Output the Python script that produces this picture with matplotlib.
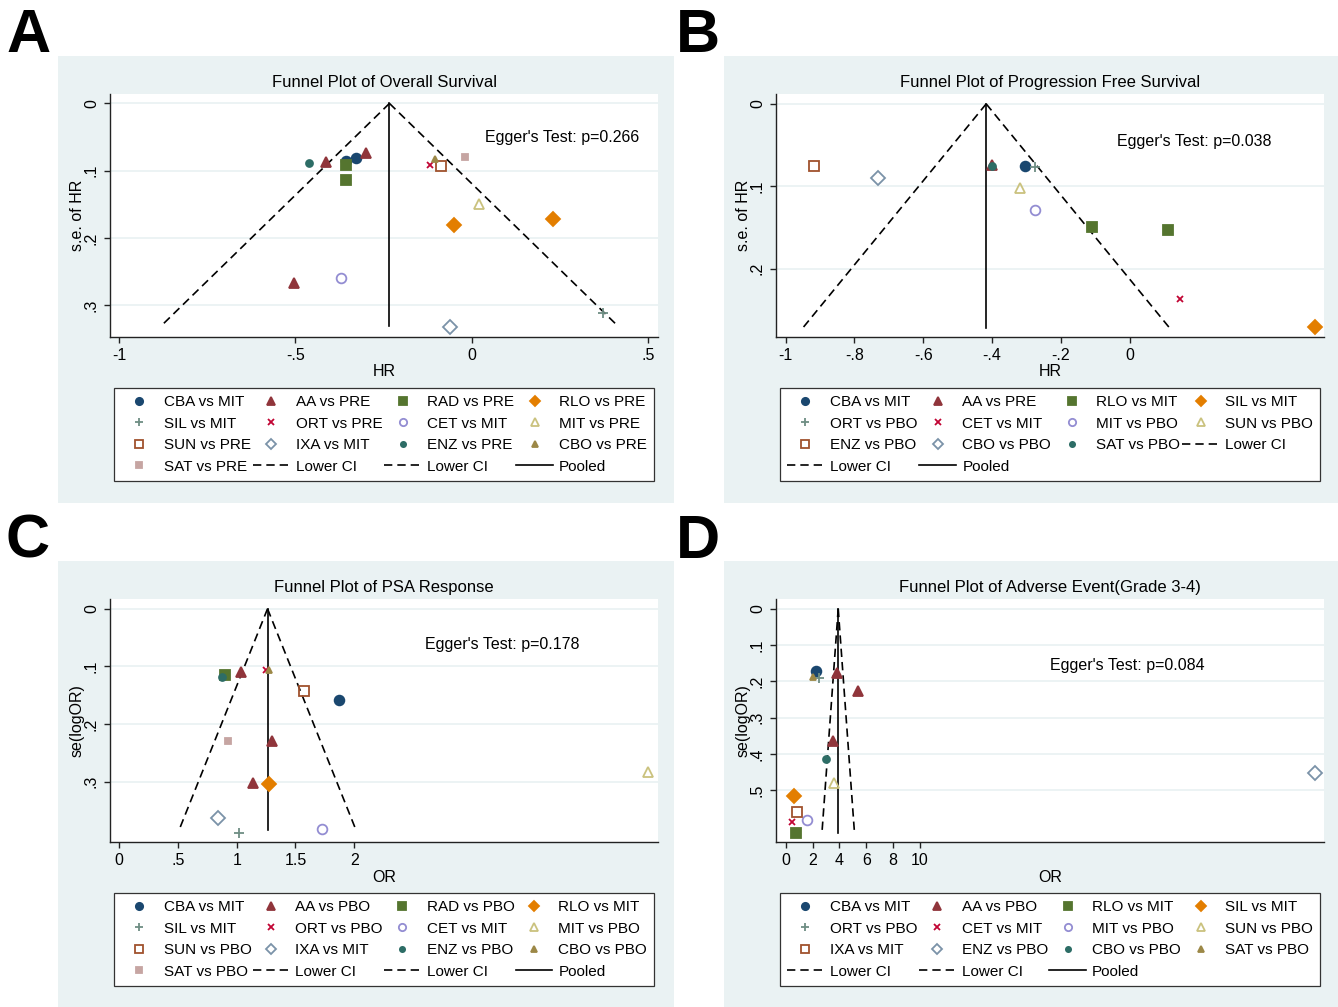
import matplotlib
matplotlib.use("Agg")
import matplotlib.pyplot as plt
from matplotlib.lines import Line2D
from matplotlib.patches import Rectangle

plt.rcParams['font.family'] = ['Liberation Sans', 'DejaVu Sans']

# marker styles shared by all panels (Stata s2color order)
colors = ['#1a476f', '#90353b', '#55752f', '#e37e00', '#6e8e84', '#c10534', '#938dd2',
          '#cac27e', '#a0522d', '#7b92a8', '#2d6d66', '#9c8847', '#c6a5a2']
markers = ['o', '^', 's', 'D', '+', 'x', 'o', '^', 's', 'D', 'o', '^', 's']
filled = [True, True, True, True, True, True, False, False, False, False, True, True, True]
sizes = [7, 7, 7, 7, 7, 5, 7, 7, 7, 7, 5, 5, 5]

# ---- A: overall survival ----
a_labels = ['CBA vs MIT', 'AA vs PRE', 'RAD vs PRE', 'RLO vs PRE', 'SIL vs MIT', 'ORT vs PRE',
            'CET vs MIT', 'MIT vs PRE', 'SUN vs PRE', 'IXA vs MIT', 'ENZ vs PRE', 'CBO vs PRE',
            'SAT vs PRE']
a_series = [10, 1, 1, 1, 0, 0, 2, 2, 6, 5, 11, 8, 12, 7, 3, 3, 9, 4]
a_x = [-0.461, -0.414, -0.300, -0.503, -0.356, -0.329, -0.356, -0.356, -0.371, -0.119,
       -0.105, -0.088, -0.020, 0.020, -0.050, 0.232, -0.061, 0.372]
a_se = [0.088, 0.087, 0.073, 0.267, 0.086, 0.081, 0.091, 0.114, 0.260, 0.092,
        0.083, 0.093, 0.079, 0.149, 0.180, 0.172, 0.332, 0.311]
a_pooled, a_semax, a_egger = -0.233, 0.33, "Egger's Test: p=0.266"

# ---- B: progression free survival ----
b_labels = ['CBA vs MIT', 'AA vs PRE', 'RLO vs MIT', 'SIL vs MIT', 'ORT vs PBO', 'CET vs MIT',
            'MIT vs PBO', 'SUN vs PBO', 'ENZ vs PBO', 'CBO vs PBO', 'SAT vs PBO']
b_series = [8, 9, 1, 10, 0, 4, 7, 6, 2, 2, 5, 3]
b_x = [-0.917, -0.732, -0.400, -0.400, -0.304, -0.275, -0.320, -0.275, -0.108, 0.111, 0.147, 0.540]
b_se = [0.075, 0.090, 0.074, 0.076, 0.075, 0.077, 0.102, 0.129, 0.150, 0.153, 0.237, 0.271]
b_pooled, b_semax, b_egger = -0.417, 0.272, "Egger's Test: p=0.038"

# ---- C: PSA response ----
c_labels = ['CBA vs MIT', 'AA vs PBO', 'RAD vs PBO', 'RLO vs MIT', 'SIL vs MIT', 'ORT vs PBO',
            'CET vs MIT', 'MIT vs PBO', 'SUN vs PBO', 'IXA vs MIT', 'ENZ vs PBO', 'CBO vs PBO',
            'SAT vs PBO']
c_series = [10, 2, 1, 1, 1, 11, 5, 8, 0, 12, 3, 9, 4, 6, 7]
c_x = [0.871, 0.897, 1.040, 1.298, 1.136, 1.275, 1.252, 1.576, 1.868, 0.927, 1.278, 0.844,
       1.020, 1.728, 4.503]
c_se = [0.118, 0.115, 0.110, 0.229, 0.303, 0.106, 0.107, 0.142, 0.158, 0.229, 0.304, 0.364,
        0.390, 0.383, 0.283]
c_pooled, c_semax, c_egger = 1.262, 0.385, "Egger's Test: p=0.178"

# ---- D: adverse events grade 3-4 ----
d_labels = ['CBA vs MIT', 'AA vs PBO', 'RLO vs MIT', 'SIL vs MIT', 'ORT vs PBO', 'CET vs MIT',
            'MIT vs PBO', 'SUN vs PBO', 'IXA vs MIT', 'ENZ vs PBO', 'CBO vs PBO', 'SAT vs PBO']
d_series = [0, 11, 4, 1, 1, 1, 10, 7, 3, 8, 5, 6, 2, 9]
d_x = [2.23, 2.06, 2.46, 3.83, 5.36, 3.54, 3.01, 3.57, 0.64, 0.87, 0.49, 1.62, 0.78, 39.4]
d_se = [0.172, 0.188, 0.192, 0.176, 0.228, 0.364, 0.414, 0.481, 0.515, 0.560, 0.589, 0.582,
        0.617, 0.453]
d_pooled, d_semax, d_egger = 3.91, 0.619, "Egger's Test: p=0.084"

bg = '#eaf2f3'
fig = plt.figure(figsize=(13.38, 10.07), dpi=100)
W, H = 1338, 1007


def fx(px):
    return px / W


def fy(py):
    return 1 - py / H


# panel backgrounds and letters
for (x0, y0, x1, y1) in [(58, 56, 674, 503), (724, 56, 1338, 503),
                         (58, 561, 674, 1007), (724, 561, 1338, 1007)]:
    fig.add_artist(Rectangle((fx(x0), fy(y1)), fx(x1 - x0), (y1 - y0) / H,
                             transform=fig.transFigure, facecolor=bg, edgecolor='none', zorder=-5))
for letter, px, py in [('A', 6, 8), ('B', 676, 8), ('C', 6, 514), ('D', 676, 514)]:
    fig.text(fx(px), fy(py), letter, fontsize=44, fontweight='bold', va='top', ha='left')


def panel(left, top, labels, series, xs, ses, pooled, semax, egger, egger_xy,
          xlim, ylim, xticks, xticklabels, yticks, yticklabels, title, xlabel, ylabel, legtop):
    ax = fig.add_axes([fx(left), fy(top + 243), fx(548), 243 / H])
    ax.set_facecolor('white')
    for s in ['top', 'right']:
        ax.spines[s].set_visible(False)
    for s in ['left', 'bottom']:
        ax.spines[s].set_color('#222222')
        ax.spines[s].set_linewidth(1.0)
    for t in yticks:
        ax.axhline(t, color=bg, lw=1.3, zorder=0)

    # funnel lines
    ax.plot([pooled, pooled - 1.96 * semax], [0, semax], color='black', ls=(0, (5, 3)), lw=1.2)
    ax.plot([pooled, pooled + 1.96 * semax], [0, semax], color='black', ls=(0, (5, 3)), lw=1.2)
    ax.plot([pooled, pooled], [0, semax], color='black', lw=1.2)

    handles = []
    for i, lab in enumerate(labels):
        px = [x for x, s in zip(xs, series) if s == i]
        py = [y for y, s in zip(ses, series) if s == i]
        kw = dict(marker=markers[i], ms=sizes[i], ls='none', color=colors[i],
                  mec=colors[i], mew=1.3)
        if not filled[i]:
            kw['mfc'] = 'none'
        ax.plot(px, py, **kw)
        lk = dict(kw)
        lk['ms'] = sizes[i] * 0.75
        handles.append(Line2D([], [], **lk))
    handles.append(Line2D([], [], color='black', ls=(0, (5, 3)), lw=1.2))
    handles.append(Line2D([], [], color='black', ls=(0, (5, 3)), lw=1.2))
    handles.append(Line2D([], [], color='black', lw=1.2))
    names = list(labels) + ['Lower CI', 'Lower CI', 'Pooled']

    ax.text(egger_xy[0], egger_xy[1], egger, fontsize=11.5, va='center', ha='left')
    ax.set_xlim(*xlim)
    ax.set_ylim(*ylim)
    ax.set_xticks(xticks)
    ax.set_xticklabels(xticklabels)
    ax.set_yticks(yticks)
    ax.set_yticklabels(yticklabels, rotation=90, va='center')
    ax.tick_params(length=4, width=1, color='#222222', labelsize=11.5, pad=4)
    ax.set_title(title, fontsize=12, pad=5)
    ax.set_xlabel(xlabel, fontsize=11.5, labelpad=1)
    ax.set_ylabel(ylabel, fontsize=11.5)
    ax.yaxis.set_label_coords(-0.046, 0.5)

    # row-major legend order (Stata fills rows first)
    n = len(handles)
    nrows = (n + 3) // 4
    order = [r * 4 + c for c in range(4) for r in range(nrows) if r * 4 + c < n]
    leg = ax.legend([handles[k] for k in order], [names[k] for k in order], ncol=4,
                    loc='upper left', bbox_to_anchor=(fx(left + 4), fy(legtop), fx(540), 0.0),
                    bbox_transform=fig.transFigure, mode='expand', fontsize=11,
                    frameon=True, fancybox=False, edgecolor='#333333', framealpha=1,
                    handlelength=2.4, handletextpad=0.4, columnspacing=0.3,
                    labelspacing=0.5, borderpad=0.45, borderaxespad=0)
    leg.get_frame().set_linewidth(0.9)
    return ax


panel(110, 94, a_labels, a_series, a_x, a_se, a_pooled, a_semax, a_egger, (0.038, 0.051),
      (-1.026, 0.529), (0.347, -0.014), [-1, -0.5, 0, 0.5], ['-1', '-.5', '0', '.5'],
      [0, 0.1, 0.2, 0.3], ['0', '.1', '.2', '.3'],
      'Funnel Plot of Overall Survival', 'HR', 's.e. of HR', 388)

panel(776, 94, b_labels, b_series, b_x, b_se, b_pooled, b_semax, b_egger, (-0.037, 0.046),
      (-1.028, 0.565), (0.283, -0.012), [-1, -0.8, -0.6, -0.4, -0.2, 0],
      ['-1', '-.8', '-.6', '-.4', '-.2', '0'], [0, 0.1, 0.2], ['0', '.1', '.2'],
      'Funnel Plot of Progression Free Survival', 'HR', 's.e. of HR', 388)

panel(110, 599, c_labels, c_series, c_x, c_se, c_pooled, c_semax, c_egger, (2.60, 0.0625),
      (-0.079, 4.586), (0.405, -0.017), [0, 0.5, 1, 1.5, 2], ['0', '.5', '1', '1.5', '2'],
      [0, 0.1, 0.2, 0.3], ['0', '.1', '.2', '.3'],
      'Funnel Plot of PSA Response', 'OR', 'se(logOR)', 893)

panel(776, 599, d_labels, d_series, d_x, d_se, d_pooled, d_semax, d_egger, (19.65, 0.157),
      (-0.72, 40.06), (0.643, -0.027), [0, 2, 4, 6, 8, 10], ['0', '2', '4', '6', '8', '10'],
      [0, 0.1, 0.2, 0.3, 0.4, 0.5], ['0', '.1', '.2', '.3', '.4', '.5'],
      'Funnel Plot of Adverse Event(Grade 3-4)', 'OR', 'se(logOR)', 893)

fig.savefig('out.png', dpi=100, facecolor='white')
